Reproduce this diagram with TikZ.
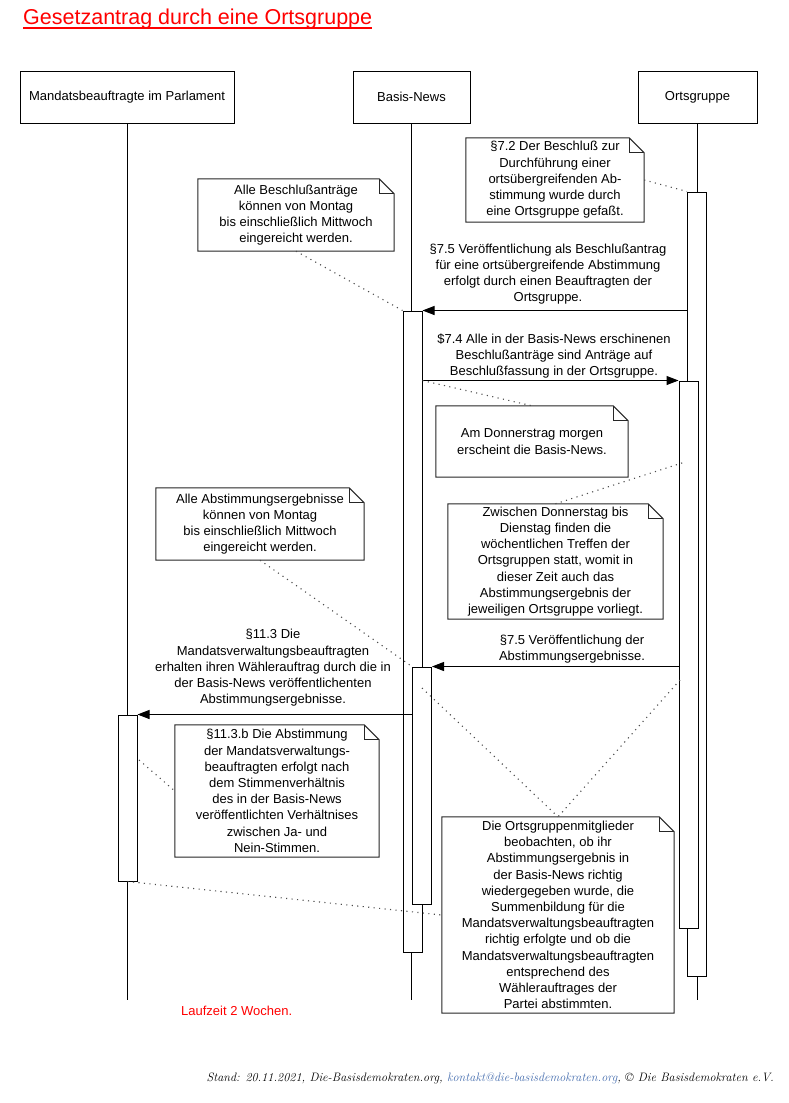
\documentclass[tikz,border=0pt]{standalone}
\usepackage{fontspec}
\newfontfamily\arialfont{Liberation Sans}
\usepackage{tikz}
\usetikzlibrary{arrows.meta,positioning}
\definecolor{titlered}{RGB}{255,0,0}
\definecolor{linkblue}{RGB}{70,110,175}
\newcommand{\diagfont}{\arialfont\fontsize{13}{16.2}\selectfont}
\tikzset{
  headbox/.style={rectangle,draw,line width=1pt,fill=white,minimum height=52pt,inner sep=0pt,font=\diagfont},
  actbox/.style={rectangle,draw,line width=1pt,fill=white,minimum width=19pt,inner sep=0pt},
  notebox/.style={rectangle,align=center,inner sep=0pt,font=\diagfont},
  msgtext/.style={align=center,inner sep=0pt,font=\diagfont},
  lifeline/.style={line width=1pt},
  msgarr/.style={->,>={Triangle[length=12pt,width=9pt]},line width=1pt},
  notelink/.style={line width=1.1pt,dash pattern=on 1.1pt off 4.4pt,black!70},
  notedraw/.style={line width=1pt,black!85}
}
\newcommand{\dogear}[1]{%
  \draw[notedraw] (#1.north west) -- ([xshift=-15pt]#1.north east) -- ([yshift=-15pt]#1.north east)
    -- (#1.south east) -- (#1.south west) -- cycle;
  \draw[notedraw] ([xshift=-15pt]#1.north east) |- ([yshift=-15pt]#1.north east);
}

\begin{document}
\begin{tikzpicture}[x=1pt,y=-1pt]
  \fill[white] (0,0) rectangle (788,1103);
  \useasboundingbox (0,0) rectangle (788,1103);

  \node[anchor=base west,inner sep=0pt,text=titlered,font=\arialfont\fontsize{21.5}{25}\selectfont] (title) at (23,24) {Gesetzantrag durch eine Ortsgruppe};
  \draw[titlered,line width=2pt] ([yshift=-4pt]title.base west) -- ([yshift=-4pt]title.base east);

  \node[headbox,minimum width=214pt] (mandat) at (127,97) {Mandatsbeauftragte im Parlament};
  \node[headbox,minimum width=117pt] (news) at (411.5,97) {Basis-News};
  \node[headbox,minimum width=119pt] (orts) at (697.5,97) {Ortsgruppe};
  \coordinate (mandatEnd) at (127,1000);
  \coordinate (newsEnd) at (411.5,1000);
  \coordinate (ortsEnd) at (697.5,1000);
  \draw[lifeline] (mandat.south) -- (mandatEnd);
  \draw[lifeline] (news.south) -- (newsEnd);
  \draw[lifeline] (orts.south) -- (ortsEnd);

  \node[actbox,minimum height=784pt] (a1) at (697,584) {};
  \node[actbox,minimum height=547pt] (a2) at (688.5,654.5) {};
  \node[actbox,minimum height=641pt] (b1) at (412.5,631.5) {};
  \node[actbox,minimum height=237pt] (b2) at (422,785.5) {};
  \node[actbox,minimum height=166pt] (m1) at (127.5,798) {};

  \draw[msgarr] (a1.west |- b1.north) -- (b1.north east);
  \draw[msgarr] (b1.east |- a2.north) -- (a2.north west);
  \draw[msgarr] (a2.west |- b2.north) -- (b2.north east);
  \draw[msgarr] (b2.west |- m1.north) -- (m1.north east);

  \node[msgtext] (lblPub) at (548,274) {§7.5 Veröffentlichung als Beschlußantrag\\für eine ortsübergreifende Abstimmung\\erfolgt durch einen Beauftragten der\\Ortsgruppe.};
  \node[msgtext] (lblAntrag) at (554,356) {\$7.4 Alle in der Basis-News erschinenen\\Beschlußanträge sind Anträge auf\\Beschlußfassung in der Ortsgruppe.};
  \node[msgtext] (lblErgebnis) at (572,649) {§7.5 Veröffentlichung der\\Abstimmungsergebnisse.};
  \node[msgtext] (lblAuftrag) at (273,668) {§11.3 Die\\Mandatsverwaltungsbeauftragten\\erhalten ihren Wählerauftrag durch die in\\der Basis-News veröffentlichenten\\Abstimmungsergebnisse.};

  \node[notebox,minimum width=178pt,minimum height=84pt] (nBeschluss) at (555,180) {§7.2 Der Beschluß zur\\Durchführung einer\\ortsübergreifenden Ab-\\stimmung wurde durch\\eine Ortsgruppe gefaßt.};
  \node[notebox,minimum width=196pt,minimum height=72pt] (nMontag) at (296,215) {Alle Beschlußanträge\\können von Montag\\bis einschließlich Mittwoch\\eingereicht werden.};
  \node[notebox,minimum width=192pt,minimum height=71pt] (nDonnerstag) at (532,441.5) {Am Donnerstrag morgen\\erscheint die Basis-News.};
  \node[notebox,minimum width=215pt,minimum height=115pt] (nTreffen) at (555.5,561.5) {Zwischen Donnerstag bis\\Dienstag finden die\\wöchentlichen Treffen der\\Ortsgruppen statt, womit in\\dieser Zeit auch das\\Abstimmungsergebnis der\\jeweiligen Ortsgruppe vorliegt.};
  \node[notebox,minimum width=208pt,minimum height=72pt] (nErgebnisse) at (260,524) {Alle Abstimmungsergebnisse\\können von Montag\\bis einschließlich Mittwoch\\eingereicht werden.};
  \node[notebox,minimum width=204pt,minimum height=132pt] (nStimmen) at (277,791) {§11.3.b Die Abstimmung\\der Mandatsverwaltungs-\\beauftragten erfolgt nach\\dem Stimmenverhältnis\\des in der Basis-News\\veröffentlichten Verhältnises\\zwischen Ja- und\\Nein-Stimmen.};
  \node[notebox,minimum width=232pt,minimum height=196pt] (nBeobachten) at (558,915) {Die Ortsgruppenmitglieder\\beobachten, ob ihr\\Abstimmungsergebnis in\\der Basis-News richtig\\wiedergegeben wurde, die\\Summenbildung für die\\Mandatsverwaltungsbeauftragten\\richtig erfolgte und ob die\\Mandatsverwaltungsbeauftragten\\entsprechend des\\Wählerauftrages der\\Partei abstimmten.};
  \dogear{nBeschluss}
  \dogear{nMontag}
  \dogear{nDonnerstag}
  \dogear{nTreffen}
  \dogear{nErgebnisse}
  \dogear{nStimmen}
  \dogear{nBeobachten}

  \coordinate (a2dot) at (685,462);
  \coordinate (a2low) at (680,680);
  \coordinate (b2dot) at (422,688);
  \coordinate (m1dot) at (139,760);
  \draw[notelink] (nBeschluss.east) -- (a1.north west);
  \draw[notelink] (nMontag.south) -- (b1.north west);
  \draw[notelink] (b1.east |- a2.north) -- (nDonnerstag.north);
  \draw[notelink] (nTreffen.north) -- (a2dot);
  \draw[notelink] (nErgebnisse.south) -- (b2.north west);
  \draw[notelink] (b2dot) -- (nBeobachten.north);
  \draw[notelink] (a2low) -- (nBeobachten.north);
  \draw[notelink] (m1dot) -- (nStimmen.west);
  \draw[notelink] (m1.south) -- (nBeobachten.west);

  \node[anchor=west,inner sep=0pt,text=titlered,font=\diagfont] (laufzeit) at (181,1011) {Laufzeit 2 Wochen.};
  \node[anchor=base east,inner sep=0pt,font=\itshape\fontsize{12.2}{15}\selectfont] (stand) at (774,1081) {Stand: 20.11.2021, Die-Basisdemokraten.org, \textcolor{linkblue}{kontakt@die-basisdemokraten.org}, © Die Basisdemokraten e.V.};
\end{tikzpicture}
\end{document}
